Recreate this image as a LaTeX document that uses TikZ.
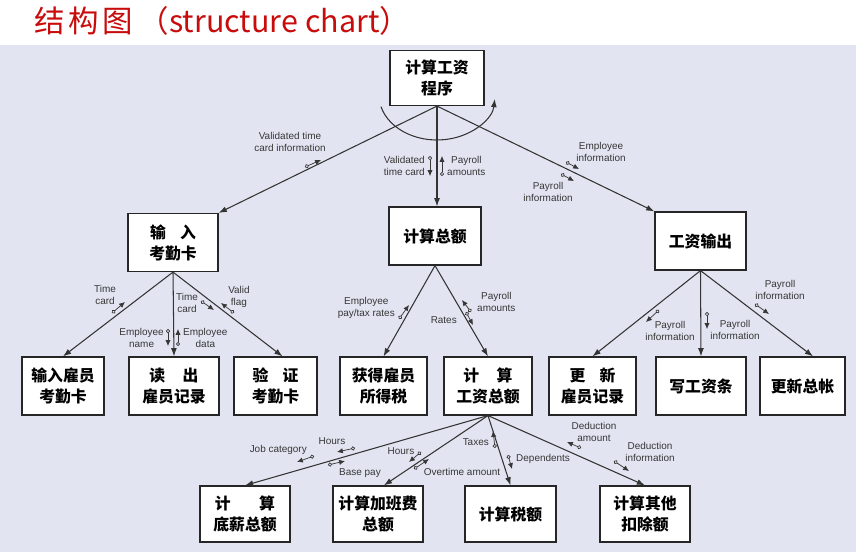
\documentclass[tikz,border=0pt]{standalone}
\usepackage{fontspec}
\setmainfont{Liberation Sans}
\newfontfamily\cjk{Noto Sans CJK SC}
\usepackage{tikz}
\usetikzlibrary{arrows.meta, positioning}
\usepackage{xcolor}
\definecolor{bgblue}{RGB}{226,229,241}
\definecolor{titlered}{RGB}{200,12,12}
\definecolor{labelgray}{RGB}{55,55,55}
\tikzstyle{module} = [rectangle, minimum width=2.7cm, minimum height=1.74cm, align=center, draw=black!85, line width=1pt, fill=white, font=\cjk\bfseries\fontsize{13.5}{18}\selectfont]
\tikzstyle{arrow} = [line width=0.9pt, draw=black!80, -{Latex[length=7pt,width=5pt]}]
\tikzstyle{couple} = [line width=0.6pt, draw=labelgray, {Circle[open,length=3.5pt,width=3.5pt]}-{Latex[length=5pt,width=4.5pt]}]
\tikzstyle{flow} = [font=\fontsize{8.5}{10.5}\selectfont, text=labelgray, inner sep=0pt, align=center]

\begin{document}
\begin{tikzpicture}[x=0.03cm, y=-0.03cm]
        \useasboundingbox (0,0) rectangle (856,552);
        \fill[bgblue] (0,45) rectangle (856,552);
        \node (title) [anchor=west, text=titlered, font=\cjk\fontsize{26}{30}\selectfont] at (30,21) {结\hspace{0.12em}构\hspace{0.12em}图\hspace{0.2em}（structure chart）};

        % modules
        \node (root) [module, minimum width=2.82cm, minimum height=1.65cm] at (437,78) {计算工资\\程序};
        \node (inp) [module] at (173,242.5) {输\hspace{0.9em}入\\考勤卡};
        \node (tot) [module, minimum width=2.76cm] at (435,236) {计算总额};
        \node (out) [module, minimum width=2.73cm] at (700.5,241) {工资输出};

        \node (card) [module, minimum width=2.46cm] at (63,386) {输入雇员\\考勤卡};
        \node (read) [module] at (174,386) {读\hspace{1.1em}出\\雇员记录};
        \node (check) [module, minimum width=2.49cm] at (275.5,386) {验\hspace{0.9em}证\\考勤卡};
        \node (tax) [module, minimum width=2.61cm] at (383.5,386) {获得雇员\\所得税};
        \node (gross) [module, minimum width=2.64cm] at (488,386) {计\hspace{1.1em}算\\工资总额};
        \node (upd) [module, minimum width=2.61cm] at (592.5,386) {更\hspace{0.9em}新\\雇员记录};
        \node (slip) [module] at (701,386) {写工资条};
        \node (ledger) [module, minimum width=2.55cm] at (802.5,386) {更新总帐};

        \node (base) [module, minimum height=1.68cm] at (245,514) {计\hspace{1.8em}算\\底薪总额};
        \node (ot) [module, minimum height=1.68cm] at (378,514) {计算加班费\\总额};
        \node (taxamt) [module, minimum width=2.73cm, minimum height=1.68cm] at (510.5,514) {计算税额};
        \node (other) [module, minimum height=1.68cm] at (645,514) {计算其他\\扣除额};

        % calls
        \draw [arrow] (root.south) -- (inp.north east);
        \draw [arrow] (root.south) -- (root.south |- tot.north);
        \draw [arrow] (root.south) -- (out.north west);
        \draw [line width=0.9pt, draw=black!80, -{Latex[length=7pt,width=5pt]}] (437,95) ++(165:58 and 45) arc[start angle=165, end angle=5, x radius=58, y radius=45];

        \draw [arrow] (inp.south) -- (card.north);
        \draw [arrow] (inp.south) -- (read.north);
        \draw [arrow] (inp.south) -- ([xshift=6]check.north);
        \draw [arrow] (tot.south) -- (tax.north);
        \draw [arrow] (tot.south) -- (gross.north);
        \draw [arrow] (out.south) -- (upd.north);
        \draw [arrow] (out.south) -- (slip.north);
        \draw [arrow] (out.south) -- ([xshift=9]ledger.north);

        \draw [arrow] (gross.south) -- (base.north);
        \draw [arrow] (gross.south) -- ([xshift=5]ot.north);
        \draw [arrow] (gross.south) -- (taxamt.north);
        \draw [arrow] (gross.south) -- (other.north);

        % data couples, top level
        \node (vtci) [flow] at (290,142) {Validated time\\card information};
        \draw [couple] (305,167) -- (321,160);
        \node (vtc) [flow, anchor=east] at (425,166) {Validated\\time card};
        \draw [couple] (430,156) -- (430,176);
        \node (pam) [flow, anchor=west] at (447,166) {Payroll\\amounts};
        \draw [couple] (442,176) -- (442,156);
        \node (empi) [flow] at (601,152) {Employee\\information};
        \draw [couple] (566,162) -- (579,169);
        \node (payi) [flow] at (548,192) {Payroll\\information};
        \draw [couple] (561,174) -- (574,181);

        % data couples, second level
        \node (tc1) [flow] at (105,295) {Time\\card};
        \draw [couple] (112,313) -- (125,302);
        \node (tc2) [flow] at (187,303) {Time\\card};
        \draw [couple] (201,301) -- (214,310);
        \node (vf) [flow] at (239,297) {Valid\\flag};
        \draw [couple] (234,313) -- (221,303);
        \node (en) [flow, anchor=east] at (164,338) {Employee\\name};
        \draw [couple] (168,329) -- (168,346);
        \node (ed) [flow, anchor=west] at (183,338) {Employee\\data};
        \draw [couple] (178,346) -- (178,329);

        \node (eptr) [flow, anchor=east] at (395,308) {Employee\\pay/tax rates};
        \draw [couple] (399,319) -- (409,305);
        \node (pam2) [flow, anchor=west] at (477,302) {Payroll\\amounts};
        \draw [couple] (471,312) -- (462,300);
        \node (rates) [flow, anchor=east] at (457,320) {Rates};
        \draw [couple] (466,312) -- (473,325);

        \node (pi1) [flow] at (670,331) {Payroll\\information};
        \draw [couple] (659,310) -- (646,322);
        \node (pi2) [flow] at (735,330) {Payroll\\information};
        \draw [couple] (707,312) -- (707,329);
        \node (pi3) [flow] at (780,290) {Payroll\\information};
        \draw [couple] (755,304) -- (769,314);

        % data couples, third level
        \node (jc) [flow, anchor=east] at (307,450) {Job category};
        \draw [couple] (314,456) -- (297,462);
        \node (hr1) [flow] at (332,441) {Hours};
        \draw [couple] (355,448) -- (337,452);
        \node (bp) [flow] at (360,473) {Base pay};
        \draw [couple] (328,465) -- (345,461);
        \node (hr2) [flow] at (401,451) {Hours};
        \draw [couple] (421,452) -- (409,462);
        \node (ota) [flow] at (462,472) {Overtime amount};
        \draw [couple] (414,469) -- (429,459);
        \node (txs) [flow, anchor=east] at (489,442) {Taxes};
        \draw [couple] (495,448) -- (493,431);
        \node (dep) [flow, anchor=west] at (516,459) {Dependents};
        \draw [couple] (508,455) -- (512,469);
        \node (dam) [flow] at (594,432) {Deduction\\amount};
        \draw [couple] (581,448) -- (567,442);
        \node (dinf) [flow] at (650,452) {Deduction\\information};
        \draw [couple] (614,461) -- (629,471);
    \end{tikzpicture}
\end{document}
